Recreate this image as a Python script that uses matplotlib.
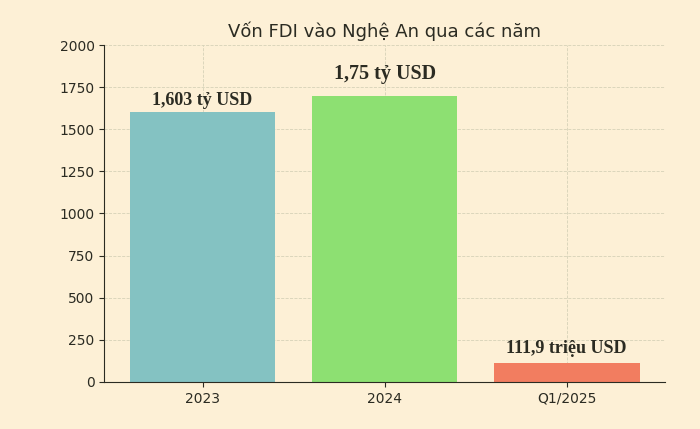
import matplotlib
matplotlib.use("Agg")
import matplotlib.pyplot as plt

# data
periods = ["2023", "2024", "Q1/2025"]
values = [1603, 1700, 111.9]
labels = ["1,603 tỷ USD", "1,75 tỷ USD", "111,9 triệu USD"]
label_sizes = [13, 14.5, 13]
colors = ["#84C2C2", "#8DE072", "#F27D60"]
yticks = [0, 250, 500, 750, 1000, 1250, 1500, 1750, 2000]

bg = "#FDF0D6"
ink = "#2B2B22"

fig = plt.figure(figsize=(7, 4.29), dpi=100, facecolor=bg)
ax = fig.add_axes([0.149, 0.1096, 0.801, 0.7855], facecolor=bg)

x = range(len(periods))
ax.bar(x, values, width=0.8, color=colors, zorder=2)

ax.set_xlim(-0.54, 2.54)
ax.set_ylim(0, 2000)
ax.set_xticks(list(x))
ax.set_xticklabels(periods)
ax.set_yticks(yticks)
ax.tick_params(colors=ink, labelsize=10)
ax.grid(True, linestyle="--", linewidth=0.6, color="#D6D2B8", zorder=0)

for side in ("top", "right"):
    ax.spines[side].set_visible(False)
for side in ("left", "bottom"):
    ax.spines[side].set_color(ink)

# value labels above each bar
offsets = [65, 130, 85]
for i, (v, txt, fs, off) in enumerate(zip(values, labels, label_sizes, offsets)):
    ax.text(i, v + off, txt, ha="center", va="center", fontsize=fs,
            fontweight="bold", family="Liberation Serif", color=ink, zorder=3)

ax.set_title("Vốn FDI vào Nghệ An qua các năm", fontsize=13, color=ink, pad=6)

fig.savefig("out.png", dpi=100, facecolor=bg)
